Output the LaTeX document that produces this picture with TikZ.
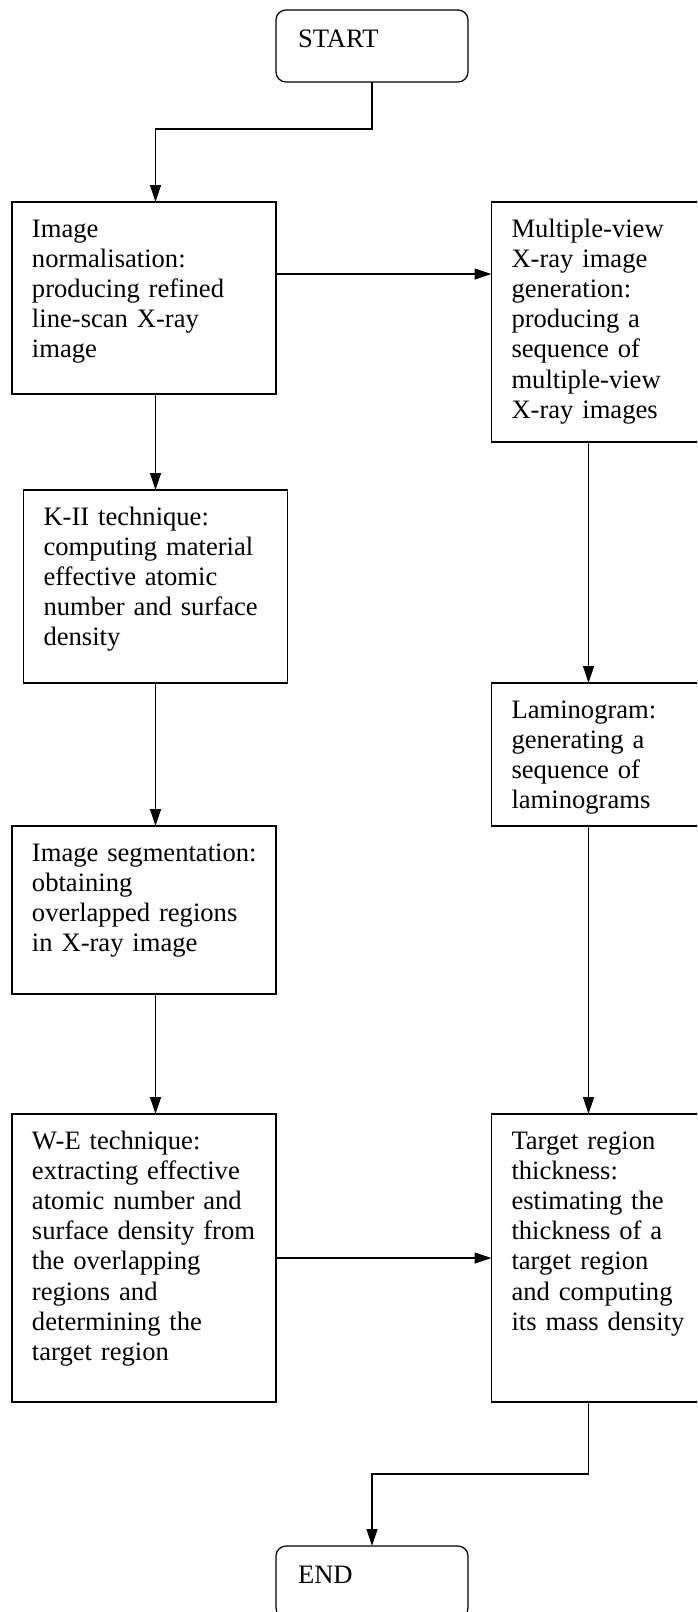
\documentclass[tikz,border=0pt]{standalone}
\usepackage{fontspec}
\setmainfont{Liberation Serif}
\usetikzlibrary{positioning, arrows.meta}

\begin{document}
\begin{tikzpicture}[
    font=\fontsize{13.3}{15.1}\selectfont,
    box/.style={rectangle, draw, line width=0.6pt, outer sep=0pt, text width=112pt, inner xsep=10pt, inner ysep=9pt, align=left, text height=8.5pt, execute at begin node={\hyphenpenalty=10000}},
    term/.style={box, rounded corners=5pt, text width=74pt, inner xsep=11pt, text height=9.5pt, text depth=8.5pt},
    arr/.style={-{Triangle[length=8.5pt, width=5.5pt]}, line width=0.6pt}
]
    \useasboundingbox (0,0) rectangle (348.5pt,-806pt);
    \clip (0,0) rectangle (348.5pt,-806pt);

    \node[term, anchor=north] (start) at (186pt,-5pt) {START};

    % left column
    \node[box, text depth=69.5pt, below left=60pt and 0pt of start] (norm) {Image\\normalisation:\\producing refined\\line-scan X-ray\\image};
    \node[box, text depth=70pt, below=48pt of norm, xshift=5.75pt] (kii) {K-II technique:\\computing material\\effective atomic\\number and surface\\density};
    \node[box, text depth=57.5pt, below=71.5pt of kii, xshift=-5.75pt] (seg) {\mbox{Image segmentation:}\\obtaining\\overlapped regions\\in X-ray image};
    \node[box, text depth=117.5pt, below=60pt of seg] (we) {W-E technique:\\extracting effective\\atomic number and\\surface density from\\the overlapping\\regions and\\determining the\\target region};

    % right column
    \node[box, text depth=93.5pt, below right=0pt and 107.75pt of norm.north east] (multi) {Multiple-view\\X-ray image\\generation:\\producing a\\sequence of\\multiple-view\\X-ray images};
    \node[box, text depth=45pt, below=120.5pt of multi] (lamino) {Laminogram:\\generating a\\sequence of\\laminograms};
    \node[box, text depth=117.5pt, below=144pt of lamino] (target) {Target region\\thickness:\\estimating the\\thickness of a\\target region\\and computing\\its mass density};

    \node[term, below right=72pt and 0pt of we] (end) {END};

    \coordinate[below=23.5pt of start] (bend1);
    \coordinate (bend2) at ([xshift=-17.5pt, yshift=-36pt]target.south);

    \draw[arr] (start.south) -- (bend1) -| (kii.north |- norm.north);
    \draw[arr] ([yshift=12pt]norm.east) -- ([yshift=12pt]norm.east -| multi.west);
    \draw[arr] (norm.south -| kii.north) -- (kii.north);
    \draw[arr] (kii.south) -- (seg.north -| kii.south);
    \draw[arr] (seg.south -| kii.south) -- (we.north -| kii.south);
    \draw[arr] ([xshift=-17.5pt]multi.south) -- ([xshift=-17.5pt]lamino.north);
    \draw[arr] ([xshift=-17.5pt]lamino.south) -- ([xshift=-17.5pt]target.north);
    \draw[arr] (we) -- (target);
    \draw[arr] ([xshift=-17.5pt]target.south) -- (bend2) -| (end.north);
\end{tikzpicture}
\end{document}
